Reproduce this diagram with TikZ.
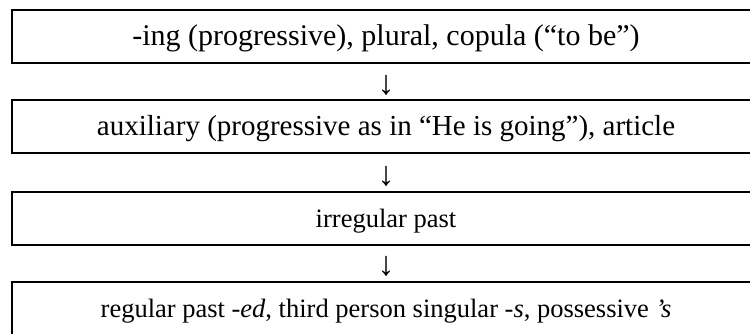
\documentclass[tikz,border=0pt]{standalone}
\usepackage{fontspec}
\setmainfont{Liberation Serif}
\begin{document}
\begin{tikzpicture}[x=1pt,y=-1pt,
  stagebox/.style={draw=black,line width=2.2pt,minimum width=750pt,minimum height=53pt,inner sep=0pt,anchor=north west},
  stagetext/.style={anchor=base,inner sep=0pt},
  arrowtext/.style={font=\fontsize{34}{38}\selectfont,anchor=base,inner sep=0pt}]
\useasboundingbox (0,0) rectangle (750,333);
\node[stagebox] (b1) at (11,9) {};
\node[stagebox] (b2) at (11,99) {};
\node[stagebox] (b3) at (11,191) {};
\node[stagebox] (b4) at (11,281) {};
\node[stagetext,font=\fontsize{30}{34}\selectfont] (t1) at (386,45) {-ing (progressive), plural, copula (“to be”)};
\node[stagetext,font=\fontsize{29}{33}\selectfont] (t2) at (386,135) {auxiliary (progressive as in “He is going”), article};
\node[stagetext,font=\fontsize{26.5}{31}\selectfont] (t3) at (386,227) {irregular past};
\node[stagetext,font=\fontsize{26.5}{31}\selectfont] (t4) at (386,317) {regular past -\textit{ed}, third person singular -\textit{s}, possessive \textit{’s}};
\node[arrowtext] (a1) at (386,94) {↓};
\node[arrowtext] (a2) at (386,185) {↓};
\node[arrowtext] (a3) at (386,275) {↓};
\end{tikzpicture}
\end{document}
